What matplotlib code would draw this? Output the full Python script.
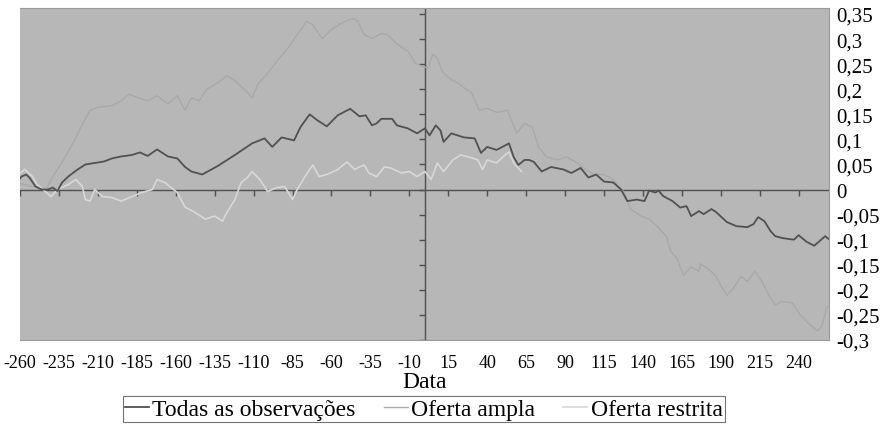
import numpy as np
import matplotlib.pyplot as plt

# dias relativos ao evento e retornos acumulados
dias_todas = [-260, -259, -256, -254, -250, -246, -242, -239, -236, -233, -229, -223,
              -218, -212, -206, -201, -195, -188, -183, -178, -172, -165, -159, -154,
              -150, -143, -133, -122, -111, -103, -98, -92, -84, -80, -74, -69, -63,
              -56, -48, -42, -38, -34, -31, -28, -21, -18, -11, -5, 0, 3, 7, 10, 12,
              17, 21, 25, 32, 36, 40, 46, 54, 57, 60, 64, 67, 70, 75, 81, 89, 94, 100,
              105, 110, 115, 121, 126, 130, 136, 141, 144, 148, 150, 153, 159, 164,
              168, 171, 173, 176, 179, 184, 187, 194, 200, 207, 211, 214, 218, 222,
              225, 230, 237, 240, 245, 250, 253, 257, 259]
todas = [0.022, 0.026, 0.03, 0.024, 0.006, 0.0, 0.0, 0.004, -0.003, 0.014, 0.026, 0.04,
         0.05, 0.053, 0.056, 0.062, 0.066, 0.069, 0.074, 0.067, 0.08, 0.066, 0.062, 0.045,
         0.036, 0.03, 0.047, 0.069, 0.092, 0.102, 0.085, 0.104, 0.098, 0.124, 0.15, 0.138, 0.126,
         0.148, 0.161, 0.146, 0.148, 0.128, 0.132, 0.141, 0.141, 0.128, 0.122, 0.112, 0.122, 0.108, 0.128, 0.118, 0.095,
         0.112, 0.108, 0.104, 0.102, 0.073, 0.085, 0.079, 0.092, 0.065, 0.049, 0.059, 0.059, 0.055, 0.036, 0.045, 0.04, 0.033, 0.043,
         0.024, 0.03, 0.016, 0.014, 0.0, -0.023, -0.02, -0.023, -0.002, -0.006, -0.002, -0.013, -0.023, -0.036,
         -0.033, -0.053, -0.049, -0.043, -0.049, -0.039, -0.045, -0.065, -0.073, -0.075, -0.069, -0.055, -0.063, -0.083,
         -0.093, -0.097, -0.1, -0.091, -0.104, -0.112, -0.104, -0.093, -0.098]

dias_ampla = [-260, -250, -243, -240, -231, -225, -220, -215, -210, -201, -195, -190,
              -184, -178, -172, -165, -159, -154, -150, -145, -140, -133, -127, -122,
              -116, -111, -107, -101, -95, -88, -82, -76, -72, -66, -60, -54, -47, -45,
              -43, -39, -34, -28, -24, -18, -11, -6, -2, 2, 5, 8, 11, 16, 21, 25, 30,
              35, 40, 46, 53, 59, 64, 69, 73, 78, 85, 91, 98, 103, 109, 115, 121, 128,
              132, 139, 144, 149, 155, 158, 162, 166, 171, 173, 176, 177, 182, 187,
              191, 194, 198, 203, 207, 212, 216, 221, 225, 229, 236, 241, 246, 252,
              255, 258, 259]
ampla = [0.012, 0.005, 0.0, 0.02, 0.065, 0.098, 0.13, 0.158, 0.164, 0.167, 0.177, 0.19,
         0.183, 0.177, 0.187, 0.171, 0.187, 0.158, 0.183, 0.177, 0.2, 0.213, 0.227, 0.217,
         0.2, 0.183, 0.211, 0.232, 0.256, 0.282, 0.309, 0.335, 0.329, 0.301, 0.319, 0.331, 0.341, 0.339,
         0.335, 0.309, 0.301, 0.311, 0.309, 0.29, 0.276, 0.252, 0.246, 0.242, 0.27, 0.262, 0.236, 0.221, 0.213, 0.203, 0.193,
         0.158, 0.162, 0.154, 0.158, 0.112, 0.132, 0.124, 0.085, 0.065, 0.059, 0.065, 0.053, 0.04, 0.03, 0.03, 0.02, -0.006,
         -0.039, -0.053, -0.059, -0.073, -0.093, -0.124, -0.138, -0.171, -0.154, -0.158, -0.163, -0.148, -0.158, -0.173,
         -0.197, -0.211, -0.197, -0.173, -0.183, -0.163, -0.181, -0.211, -0.23, -0.223, -0.226, -0.25, -0.266, -0.282,
         -0.272, -0.236, -0.232]

dias_restrita = [-260, -257, -252, -249, -243, -240, -236, -229, -224, -220, -218, -215,
                 -212, -207, -201, -195, -188, -182, -175, -172, -167, -163, -159, -154,
                 -148, -141, -135, -130, -127, -122, -118, -114, -111, -106, -101, -95,
                 -90, -85, -82, -77, -72, -68, -63, -56, -50, -45, -42, -39, -36, -31,
                 -26, -22, -15, -10, -5, 0, 4, 8, 12, 18, 23, 28, 34, 37, 40, 46, 50,
                 54, 57, 62]
restrita = [0.033, 0.04, 0.026, 0.01, -0.006, -0.014, 0.0, 0.01, 0.02, 0.006, -0.02, -0.023,
            0.0, -0.014, -0.016, -0.023, -0.014, -0.006, 0.0, 0.02, 0.014, 0.004, -0.006, -0.035,
            -0.045, -0.059, -0.053, -0.063, -0.045, -0.02, 0.014, 0.024, 0.036, 0.02, -0.004, 0.004,
            0.006, -0.02, 0.0, 0.026, 0.049, 0.026, 0.03, 0.04, 0.055, 0.04, 0.045, 0.049, 0.033, 0.026,
            0.045, 0.043, 0.033, 0.036, 0.026, 0.036, 0.02, 0.053, 0.036, 0.059, 0.069, 0.065, 0.059, 0.04, 0.059, 0.053, 0.065,
            0.075, 0.053, 0.036]

xticks = list(range(-260, 241, 25))
yticks = [0.35, 0.3, 0.25, 0.2, 0.15, 0.1, 0.05, 0, -0.05, -0.1, -0.15, -0.2, -0.25, -0.3]
ylabels = ["0,35", "0,3", "0,25", "0,2", "0,15", "0,1", "0,05", "0",
           "-0,05", "-0,1", "-0,15", "-0,2", "-0,25", "-0,3"]

plt.rcParams['font.family'] = ['Liberation Serif', 'DejaVu Serif']

fig = plt.figure(figsize=(8.83, 4.27), dpi=100)
ax = fig.add_axes([20/883, 1 - 341/427, 809/883, 332/427])
ax.set_facecolor('#b7b7b7')

# eixos cruzando em zero
ax.axhline(0, color='#505050', lw=1, zorder=2)
ax.axvline(0, color='#505050', lw=1, zorder=2)
ax.plot(xticks, np.zeros(len(xticks)), ls='none', marker=3, ms=4, mew=1, color='#505050', zorder=2)
ax.plot(np.zeros(len(yticks)), yticks, ls='none', marker=0, ms=4, mew=1, color='#505050', zorder=2)

ax.plot(dias_ampla, ampla, color='#a9a9a9', lw=1.0, label='Oferta ampla', zorder=3)
ax.plot(dias_restrita, restrita, color='#d8d8d8', lw=1.2, label='Oferta restrita', zorder=4)
ax.plot(dias_todas, todas, color='#515151', lw=1.3, label='Todas as observações', zorder=5)

ax.set_xlim(-260, 259.5)
ax.set_ylim(-0.3, 0.362)
ax.set_xticks(xticks)
ax.set_xticklabels([str(t) for t in xticks], fontsize=13)
ax.set_yticks(yticks)
ax.set_yticklabels(ylabels, fontsize=15)
ax.yaxis.tick_right()
ax.tick_params(axis='both', length=0)
ax.tick_params(axis='x', pad=10)
ax.tick_params(axis='y', pad=5)
for s in ax.spines.values():
    s.set_color('#9a9a9a')
    s.set_linewidth(0.8)
ax.spines['left'].set_visible(False)

ax.set_xlabel('Data', fontsize=17, labelpad=0)

h, l = ax.get_legend_handles_labels()
ordem = [2, 0, 1]
leg = fig.legend([h[i] for i in ordem], [l[i] for i in ordem], loc='upper center',
                 bbox_to_anchor=(0.48, 1 - 397/427), ncol=3, fontsize=17, frameon=True,
                 fancybox=False, edgecolor='#505050', handlelength=1.0, handletextpad=0.15,
                 columnspacing=1.2, borderpad=0.1, borderaxespad=0)
leg.get_frame().set_linewidth(0.8)

fig.savefig('out.png', dpi=100)
